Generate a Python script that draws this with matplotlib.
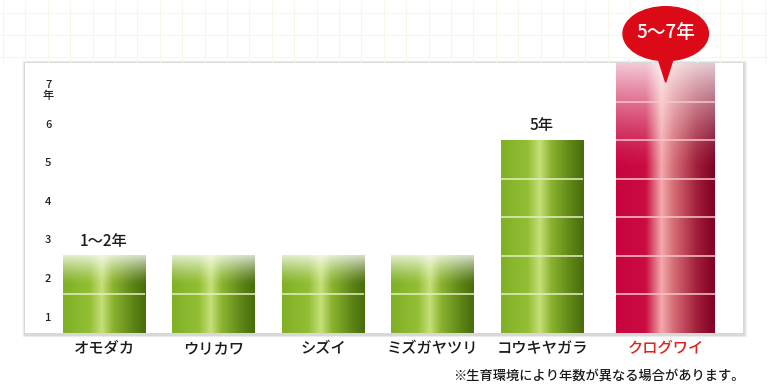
import numpy as np
import matplotlib.pyplot as plt
from matplotlib.patches import Ellipse, Polygon, Rectangle

plt.rcParams['font.family'] = ['Noto Sans CJK JP', 'DejaVu Sans']

# Data
categories = ['オモダカ', 'ウリカワ', 'シズイ', 'ミズガヤツリ', 'コウキヤガラ', 'クログワイ']
years_low = [1, 1, 1, 1, 5, 5]
years_high = [2, 2, 2, 2, 5, 7]
value_labels = ['1～2年', '', '', '', '5年', '5～7年']
ytick_labels = ['1', '2', '3', '4', '5', '6', '7\n年']
note = '※生育環境により年数が異なる場合があります。'

# Gradient colour stops (position across the bar, rgb)
green_stops = [(0.0, (128, 176, 38)), (0.32, (146, 190, 52)), (0.47, (198, 224, 122)),
               (0.6, (140, 180, 48)), (0.85, (92, 132, 22)), (1.0, (72, 108, 10))]
red_stops = [(0.0, (200, 4, 62)), (0.3, (202, 12, 66)), (0.46, (242, 170, 172)),
             (0.58, (214, 110, 120)), (0.82, (160, 30, 56)), (1.0, (128, 0, 36))]


def bar_image(stops, low, high, height, nx=200, ny=300):
    pos = [s[0] for s in stops]
    cols = np.array([s[1] for s in stops], dtype=float) / 255
    xs = np.linspace(0, 1, nx)
    row = np.stack([np.interp(xs, pos, cols[:, c]) for c in range(3)], axis=1)
    ys = np.linspace(0, height, ny)
    if high > low:
        start = low + 0.25 if high - low < 2 else low - 0.7
        fade = np.clip((ys - start) / (high - start), 0, 1) ** 1.3 * 0.78
    else:
        fade = np.zeros(ny)
    img = row[None, :, :] * (1 - fade[:, None, None]) + fade[:, None, None]
    return img


fig = plt.figure(figsize=(7.68, 3.88), dpi=100)

# background with faint grid and panel shadow
bg = fig.add_axes([0, 0, 1, 1], zorder=0)
bg.set_xlim(0, 768)
bg.set_ylim(388, 0)
bg.axis('off')
bg.vlines(np.arange(3, 768, 22.4), 0, 64, color='#f8f6ea', lw=0.8)
bg.hlines([13, 35, 57], 0, 768, color='#f8f6ea', lw=0.8)
bg.add_patch(Rectangle((23, 61), 723, 275, color='#f0f0f0'))
bg.add_patch(Rectangle((24, 62), 720, 273, color='#d8d8d8'))

ax = fig.add_axes([25 / 768, 55 / 388, 718 / 768, 270 / 388], zorder=1)
ax.set_facecolor('white')
ax.set_xlim(-0.7215, 5.836)
ax.set_ylim(0, 7)

x = np.arange(len(categories), dtype=float)
x[-1] += 0.13
widths = [0.75] * (len(categories) - 1) + [0.9]

for i in range(len(categories)):
    h = years_high[i]
    stops = red_stops if i == len(categories) - 1 else green_stops
    line_col = '#f6c6cc' if i == len(categories) - 1 else '#e4f0c0'
    img = bar_image(stops, years_low[i], years_high[i], h)
    ax.imshow(img, extent=[x[i] - widths[i] / 2, x[i] + widths[i] / 2, 0, h],
              aspect='auto', origin='lower', interpolation='bilinear', zorder=2)
    ax.hlines(np.arange(1, h), x[i] - widths[i] / 2, x[i] + widths[i] / 2,
              color=line_col, lw=1.1, zorder=3)
    if value_labels[i] and i != len(categories) - 1:
        ax.text(x[i], h + 0.38, value_labels[i], ha='center', va='center',
                fontsize=11, fontweight='medium', color='#1a1a1a')

# speech bubble for the highlighted bar
xr, hr = x[-1], years_high[-1]
ax.add_patch(Ellipse((xr, hr + 0.76), 0.78, 1.4, color='#dc0a16', clip_on=False, zorder=5))
ax.add_patch(Polygon([[xr - 0.09, hr + 0.3], [xr + 0.09, hr + 0.3], [xr, hr - 0.5]],
                     closed=True, color='#dc0a16', clip_on=False, zorder=5))
ax.text(xr, hr + 0.78, value_labels[-1], ha='center', va='center', fontsize=13.5,
        fontweight='medium', color='white', zorder=6)

# y labels inside the panel
for k, lab in enumerate(ytick_labels):
    yv = k + 1 - 0.6 if '\n' not in lab else k + 1 - 0.72
    ax.text(-0.51, yv, lab, ha='center', va='center', fontsize=8,
            fontweight='medium', color='#222222', linespacing=1.1)

ax.set_yticks([])
ax.set_xticks(x)
ax.set_xticklabels(categories, fontsize=11, fontweight='medium', color='#1a1a1a')
ax.get_xticklabels()[-1].set_color('#d9261c')
ax.tick_params(axis='x', length=0, pad=5)
for s in ax.spines.values():
    s.set_visible(False)

fig.text(745 / 768, 1 - 376 / 388, note, ha='right', va='center', fontsize=9.5,
         fontweight='medium', color='#1a1a1a')

fig.savefig('out.png', dpi=100)
